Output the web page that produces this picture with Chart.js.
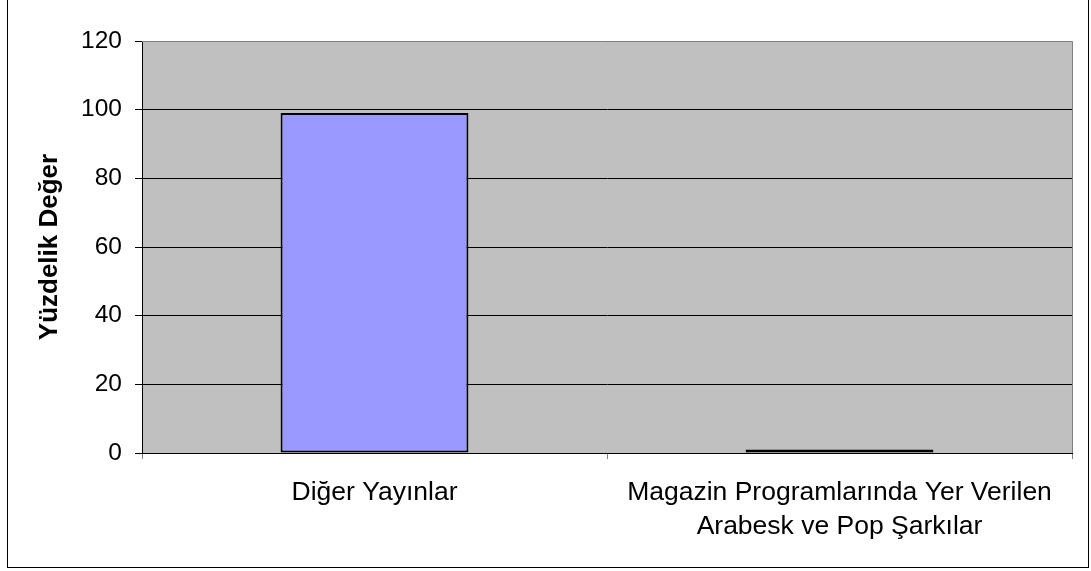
<!DOCTYPE html>
<html>
<head>
<meta charset="utf-8">
<script src="https://cdn.jsdelivr.net/npm/chart.js@4"></script>
<style>
html,body{margin:0;padding:0;background:#fff;}
#wrap{position:relative;width:1091px;height:571px;}
</style>
</head>
<body>
<div id="wrap"><canvas id="c" width="1091" height="571"></canvas></div>
<script>
const categories = [
  'Diğer Yayınlar',
  ['Magazin Programlarında Yer Verilen', 'Arabesk ve Pop Şarkılar']
];
const values = [99, 1];
const yTicks = [0, 20, 40, 60, 80, 100, 120];
const yTitle = 'Yüzdelik Değer';

const FONT = '"Liberation Sans", Arial, sans-serif';

const framePlugin = {
  id: 'frame',
  beforeDraw(chart) {
    const {ctx, chartArea: a} = chart;
    ctx.save();
    ctx.fillStyle = '#ffffff';
    ctx.fillRect(0, 0, chart.width, chart.height);
    ctx.fillStyle = '#C0C0C0';
    ctx.fillRect(a.left, a.top, a.right - a.left, a.bottom - a.top);
    ctx.strokeStyle = '#000';
    ctx.lineWidth = 1;
    ctx.strokeRect(7.5, -1.5, 1081, 569);
    ctx.restore();
  },
  afterDatasetsDraw(chart) {
    const {ctx, chartArea: a} = chart;
    ctx.save();
    ctx.strokeStyle = '#808080';
    ctx.lineWidth = 1;
    ctx.beginPath();
    ctx.moveTo(a.left, Math.round(a.top) + 0.5);
    ctx.lineTo(Math.round(a.right) + 0.5, Math.round(a.top) + 0.5);
    ctx.lineTo(Math.round(a.right) + 0.5, a.bottom);
    ctx.stroke();
    ctx.restore();
  }
};

new Chart(document.getElementById('c'), {
  type: 'bar',
  data: {
    labels: categories,
    datasets: [{
      data: values,
      backgroundColor: '#9999FF',
      borderColor: '#000000',
      borderWidth: 2,
      borderSkipped: false,
      barPercentage: 0.404,
      categoryPercentage: 1.0
    }]
  },
  options: {
    responsive: false,
    animation: false,
    devicePixelRatio: 1,
    layout: {padding: {top: 41, right: 19, left: 0, bottom: 0}},
    plugins: {legend: {display: false}, tooltip: {enabled: false}},
    scales: {
      x: {
        grid: {display: true, drawOnChartArea: false, offset: true, tickLength: 6, color: '#808080', lineWidth: 1},
        border: {display: true, color: '#000', width: 1},
        ticks: {
          color: '#000',
          font: {family: FONT, size: 26.5, lineHeight: 1.3},
          padding: 16,
          maxRotation: 0,
          autoSkip: false
        },
        afterFit(scale) { scale.height = 118; }
      },
      y: {
        min: 0,
        max: 120,
        afterBuildTicks(scale) { scale.ticks = yTicks.map(v => ({value: v})); },
        grid: {color: '#000', lineWidth: 1, tickLength: 7, drawTicks: true},
        border: {display: true, color: '#000', width: 1},
        ticks: {
          color: '#000',
          font: {family: FONT, size: 24.5},
          padding: 13
        },
        title: {
          display: true,
          text: yTitle,
          color: '#000',
          font: {family: FONT, size: 26, weight: 'bold', lineHeight: 1.2},
          padding: {top: 34, bottom: 0}
        },
        afterFit(scale) { scale.width = 142; }
      }
    }
  },
  plugins: [framePlugin]
});
</script>
</body>
</html>
